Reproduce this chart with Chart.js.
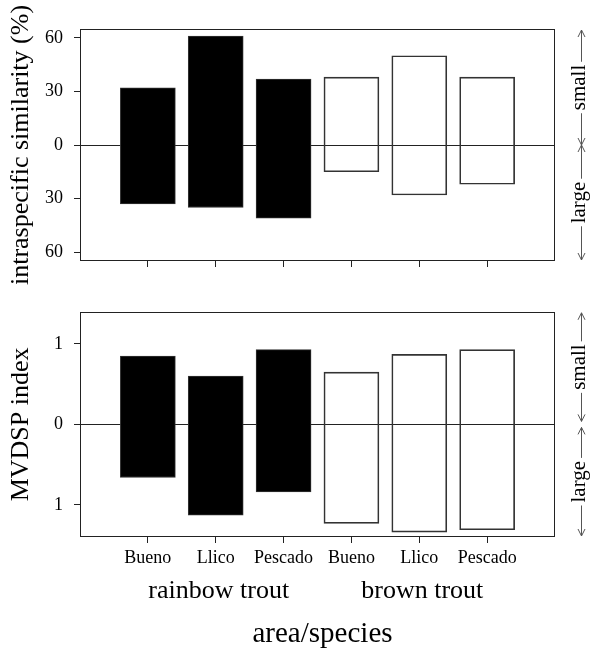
<!DOCTYPE html>
<html>
<head>
<meta charset="utf-8">
<script src="https://cdn.jsdelivr.net/npm/chart.js@4.4.1/dist/chart.umd.min.js"></script>
<style>
  html, body { margin: 0; padding: 0; background: #fff; }
  #wrap { position: relative; width: 590px; height: 650px; }
  canvas { position: absolute; left: 0; }
  #simChart { top: 0; }
  #mvdspChart { top: 290px; }
</style>
</head>
<body>
<div id="wrap">
  <canvas id="simChart" width="590" height="290"></canvas>
  <canvas id="mvdspChart" width="590" height="360"></canvas>
</div>
<script>
const areas = ['Bueno', 'Llico', 'Pescado'];
const species = ['rainbow trout', 'brown trout'];
const similarityTicks = [-60, -30, 0, 30, 60];
const mvdspTicks = [-1, 0, 1];

// upper ("small") and lower ("large") ends of each bar
const rainbowSimSmall = [32, 61, 37];
const rainbowSimLarge = [-33, -35, -41];
const brownSimSmall = [38, 50, 38];
const brownSimLarge = [-15, -28, -22];

const rainbowMvdspSmall = [0.85, 0.60, 0.93];
const rainbowMvdspLarge = [-0.66, -1.13, -0.84];
const brownMvdspSmall = [0.65, 0.87, 0.93];
const brownMvdspLarge = [-1.23, -1.34, -1.31];

const SERIF = '"Liberation Serif", "Times New Roman", serif';
Chart.defaults.font.family = SERIF;
Chart.defaults.color = '#000';

// x positions 1..6, species after species
const positions = [];
const tickNames = [];
species.forEach((s, si) => areas.forEach((a, ai) => {
  positions.push(si * areas.length + ai + 1);
  tickNames.push(a);
}));

const toBars = (lows, highs, si) =>
  lows.map((lo, i) => ({ x: si * areas.length + i + 1, y: [lo, highs[i]] }));

// full box round the plot region
const framePlugin = {
  id: 'frame',
  afterDraw(chart) {
    const { ctx, chartArea: a } = chart;
    ctx.save();
    ctx.strokeStyle = '#222';
    ctx.lineWidth = 1;
    ctx.strokeRect(Math.round(a.left) + 0.5, Math.round(a.top) + 0.5,
      Math.round(a.right - a.left) - 1, Math.round(a.bottom - a.top) - 1);
    ctx.restore();
  }
};

function arrowHead(ctx, x, y, dir) {
  ctx.beginPath();
  ctx.moveTo(x - 3.5, y - dir * 7);
  ctx.lineTo(x, y);
  ctx.lineTo(x + 3.5, y - dir * 7);
  ctx.stroke();
}

function labelledArrow(ctx, x, y1, y2, text) {
  const mid = (y1 + y2) / 2;
  const half = ctx.measureText(text).width / 2 + 3;
  ctx.beginPath();
  ctx.moveTo(x, y1); ctx.lineTo(x, mid - half);
  ctx.moveTo(x, mid + half); ctx.lineTo(x, y2);
  ctx.stroke();
  arrowHead(ctx, x, y1, -1);
  arrowHead(ctx, x, y2, 1);
  ctx.save();
  ctx.translate(x + 3, mid);
  ctx.rotate(-Math.PI / 2);
  ctx.textAlign = 'center';
  ctx.textBaseline = 'alphabetic';
  ctx.fillText(text, 0, 0);
  ctx.restore();
}

// small / large arrows on the right of each panel
const sidePlugin = {
  id: 'side',
  afterDraw(chart, args, opts) {
    const { ctx, chartArea: a } = chart;
    const y = chart.scales.y;
    const x = Math.round(a.right) + 26.5;
    const z = y.getPixelForValue(0);
    ctx.save();
    ctx.strokeStyle = '#555';
    ctx.fillStyle = '#000';
    ctx.lineWidth = 1;
    ctx.font = '21px ' + SERIF;
    labelledArrow(ctx, x, a.top + 1, z - opts.gap, 'small');
    labelledArrow(ctx, x, z + opts.gap, a.bottom - 1, 'large');
    ctx.restore();
  }
};

// species names and the x title under the lower panel
const groupPlugin = {
  id: 'groups',
  afterDraw(chart) {
    const { ctx, chartArea: a } = chart;
    const xs = chart.scales.x;
    ctx.save();
    ctx.fillStyle = '#000';
    ctx.textAlign = 'center';
    ctx.textBaseline = 'alphabetic';
    ctx.font = '26px ' + SERIF;
    species.forEach((s, si) => {
      const first = xs.getPixelForValue(si * areas.length + 1);
      const last = xs.getPixelForValue(si * areas.length + areas.length);
      ctx.fillText(s, (first + last) / 2 + 3, a.bottom + 61);
    });
    ctx.font = '29px ' + SERIF;
    ctx.fillText('area/species', (a.left + a.right) / 2 + 5, a.bottom + 105);
    ctx.restore();
  }
};

function makeChart(id, cfg) {
  const showLabels = cfg.xLabels;
  return new Chart(document.getElementById(id), {
    type: 'bar',
    data: {
      datasets: [
        {
          label: species[0],
          data: toBars(cfg.rLow, cfg.rHigh, 0),
          backgroundColor: '#000',
          borderColor: '#333',
          borderWidth: 1,
          borderSkipped: false,
          barThickness: 55,
          grouped: false
        },
        {
          label: species[1],
          data: toBars(cfg.bLow, cfg.bHigh, 1),
          backgroundColor: 'rgba(0,0,0,0)',
          borderColor: '#333',
          borderWidth: 1,
          borderSkipped: false,
          barThickness: 55,
          grouped: false
        }
      ]
    },
    options: {
      responsive: false,
      animation: false,
      layout: { padding: { top: cfg.padTop, right: 35, left: 0, bottom: 0 } },
      plugins: {
        legend: { display: false },
        tooltip: { enabled: false },
        side: { gap: cfg.gap }
      },
      scales: {
        x: {
          type: 'linear',
          offset: false,
          min: 0,
          max: positions.length + 1,
          afterBuildTicks: s => { s.ticks = positions.map(v => ({ value: v })); },
          afterFit: s => { s.height = cfg.xHeight; },
          grid: { offset: false, drawOnChartArea: false, drawTicks: true, tickLength: 6, tickColor: '#222' },
          border: { display: false },
          ticks: {
            padding: 4,
            font: { size: 18 },
            color: showLabels ? '#000' : 'rgba(0,0,0,0)',
            maxRotation: 0,
            autoSkip: false,
            callback: v => tickNames[positions.indexOf(v)] || ''
          }
        },
        y: {
          min: cfg.yMin,
          max: cfg.yMax,
          afterBuildTicks: s => { s.ticks = cfg.yTicks.map(v => ({ value: v })); },
          afterFit: s => { s.width = 80; },
          grid: {
            drawTicks: true,
            tickLength: 6,
            tickColor: '#222',
            color: c => (c.tick && c.tick.value === 0) ? '#222' : 'rgba(0,0,0,0)'
          },
          border: { display: false },
          ticks: {
            padding: 11,
            font: { size: 18 },
            callback: v => String(Math.abs(v))
          },
          title: {
            display: true,
            text: cfg.yTitle,
            font: { size: 26 },
            padding: { top: 6, bottom: 0 }
          }
        }
      }
    },
    plugins: [framePlugin, sidePlugin].concat(cfg.extra || [])
  });
}

makeChart('simChart', {
  rLow: rainbowSimLarge, rHigh: rainbowSimSmall,
  bLow: brownSimLarge, bHigh: brownSimSmall,
  yMin: -65, yMax: 65, yTicks: similarityTicks,
  yTitle: 'intraspecific similarity (%)',
  padTop: 29, xHeight: 29, xLabels: false, gap: 0
});

makeChart('mvdspChart', {
  rLow: rainbowMvdspLarge, rHigh: rainbowMvdspSmall,
  bLow: brownMvdspLarge, bHigh: brownMvdspSmall,
  yMin: -1.4, yMax: 1.4, yTicks: mvdspTicks,
  yTitle: 'MVDSP index',
  padTop: 17, xHeight: 113, xLabels: true, gap: 3,
  extra: [groupPlugin]
});
</script>
</body>
</html>
